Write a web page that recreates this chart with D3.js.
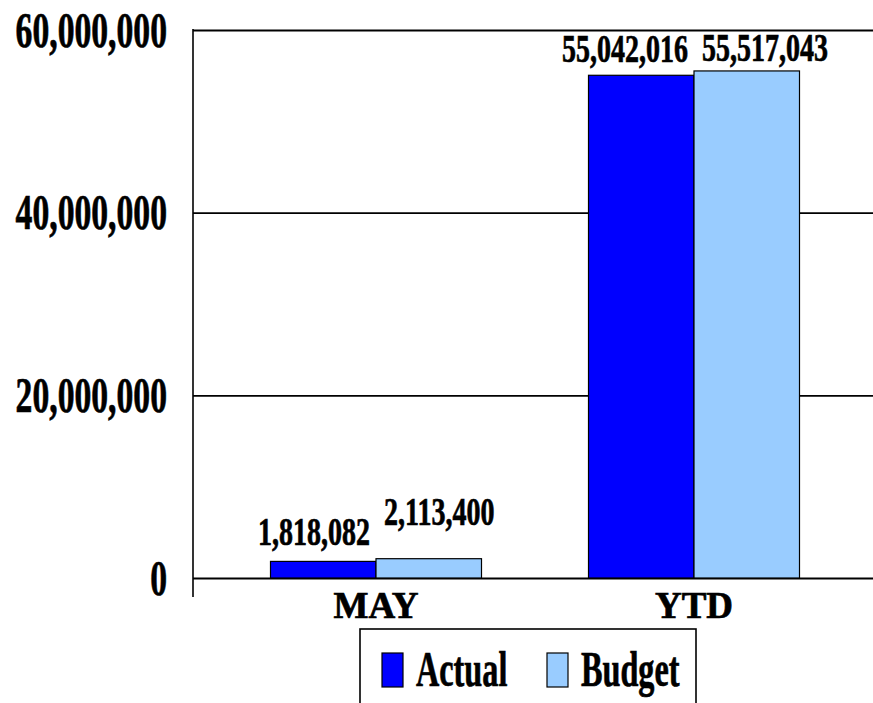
<!DOCTYPE html>
<html>
<head>
<meta charset="utf-8">
<script src="https://cdn.jsdelivr.net/npm/d3@7"></script>
<style>
  html, body { margin: 0; padding: 0; background: #fff; }
  svg { display: block; }
  svg text { font-family: "Liberation Serif", "Times New Roman", serif; font-weight: 700; fill: #000; stroke: #000; stroke-width: 0.7px; }
</style>
</head>
<body>
<div id="chart"></div>
<script>
// ---- data ----
const categories = ["MAY", "YTD"];
const seriesNames = ["Actual", "Budget"];
const actualValues = [1818082, 55042016];
const budgetValues = [2113400, 55517043];
const yTickValues = [0, 20000000, 40000000, 60000000];
const seriesColors = ["#0000FF", "#99CCFF"];

// ---- layout ----
const W = 873, H = 703;
const plot = { left: 193, top: 30, bottom: 578, right: 873 };
const labelDy = { MAY: [-16, -34], YTD: [-13, -10] };
const squeeze = 0.7;

const svg = d3.select("#chart").append("svg").attr("width", W).attr("height", H);

const y = d3.scaleLinear().domain([0, 60000000]).range([plot.bottom, plot.top]);
const x = d3.scaleBand().domain(categories).range([217, 853]).padding(0);
const groupW = 211;
const xs = d3.scaleBand().domain(seriesNames).range([0, groupW]).padding(0);
const groupOffset = (x.bandwidth() - groupW) / 2;
const color = d3.scaleOrdinal().domain(seriesNames).range(seriesColors);
const fmt = d3.format(",");

const rows = categories.map((c, i) => ({ cat: c, vals: [actualValues[i], budgetValues[i]] }));

// gridlines via axis
const grid = svg.append("g").attr("transform", `translate(${plot.left},0)`)
  .call(d3.axisRight(y).tickValues(yTickValues).tickSize(plot.right - plot.left).tickFormat(""));
grid.select(".domain").remove();
grid.selectAll(".tick line").attr("stroke", "#000")
  .attr("stroke-width", d => (d === 0 || d === 60000000) ? 2.2 : 1.6);

// y axis labels
const yAxis = svg.append("g").attr("transform", `translate(${plot.left},0)`)
  .call(d3.axisLeft(y).tickValues(yTickValues).tickSize(0).tickFormat(fmt));
yAxis.attr("font-family", null).attr("font-size", null);
yAxis.select(".domain").remove();
yAxis.selectAll(".tick text")
  .attr("x", null).attr("dy", null)
  .attr("text-anchor", "end")
  .attr("transform", `translate(-26,16) scale(0.66,1)`)
  .attr("font-size", 51);

// bars
const groups = svg.append("g").selectAll("g").data(rows).join("g")
  .attr("transform", d => `translate(${x(d.cat) + groupOffset},0)`);

groups.selectAll("rect").data(d => d.vals.map((v, i) => ({ cat: d.cat, s: seriesNames[i], v })))
  .join("rect")
  .attr("x", d => xs(d.s))
  .attr("y", d => y(d.v))
  .attr("width", xs.bandwidth())
  .attr("height", d => y(0) - y(d.v))
  .attr("fill", d => color(d.s))
  .attr("stroke", "#000")
  .attr("stroke-width", 1.2);

// value labels
rows.forEach(r => {
  const cx = x(r.cat) + x.bandwidth() / 2;
  r.vals.forEach((v, i) => {
    const isActual = i === 0;
    const tx = isActual ? cx - 6 : cx + 8;
    const ty = y(v) + labelDy[r.cat][i];
    svg.append("text")
      .attr("transform", `translate(${tx},${ty}) scale(${squeeze},1)`)
      .attr("text-anchor", isActual ? "end" : "start")
      .attr("font-size", 40)
      .text(fmt(v));
  });
});

// vertical axis line
svg.append("line")
  .attr("x1", plot.left).attr("x2", plot.left)
  .attr("y1", plot.top - 1).attr("y2", plot.bottom + 19)
  .attr("stroke", "#000").attr("stroke-width", 1.6);

// category labels
const xAxis = svg.append("g").attr("transform", `translate(0,${plot.bottom})`)
  .call(d3.axisBottom(x).tickSize(0));
xAxis.attr("font-family", null).attr("font-size", null);
xAxis.select(".domain").remove();
xAxis.selectAll(".tick text")
  .attr("y", 40).attr("dy", null)
  .attr("font-size", 37);

// legend
const leg = svg.append("g");
leg.append("rect").attr("x", 360).attr("y", 629).attr("width", 336).attr("height", 90)
  .attr("fill", "#fff").attr("stroke", "#000").attr("stroke-width", 1.6);
const legX = [382, 547];
seriesNames.forEach((s, i) => {
  leg.append("rect").attr("x", legX[i]).attr("y", 653).attr("width", 21).attr("height", 34)
    .attr("fill", color(s)).attr("stroke", "#000").attr("stroke-width", 1.2);
  leg.append("text")
    .attr("transform", `translate(${legX[i] + 34},686) scale(0.645,1)`)
    .attr("font-size", 50)
    .text(s);
});
</script>
</body>
</html>
